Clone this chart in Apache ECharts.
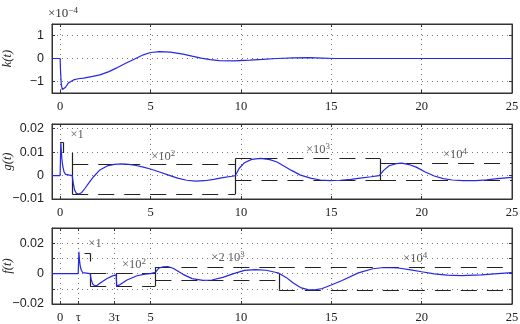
<!DOCTYPE html>
<html><head><meta charset="utf-8">
<script src="https://cdn.jsdelivr.net/npm/echarts@6/dist/echarts.min.js"></script>
<style>html,body{margin:0;padding:0;background:#fff}#c{width:520px;height:324px}</style>
</head><body><div id="c"></div>
<script>
// ---------- data ----------
const xTicks = [0, 5, 10, 15, 20, 25];
const xLabels = ['0', '5', '10', '15', '20', '25'];
const fXTicks = [0, 1, 3, 5, 10, 15, 20, 25];
const fXLabels = ['0', 'τ', '3τ', '5', '10', '15', '20', '25'];
const kYTicks = [-1, 0, 1];
const gYTicks = [-0.01, 0, 0.01, 0.02];
const fYTicks = [-0.02, -0.01, 0, 0.01, 0.02];
const fYLabelTicks = [-0.02, 0, 0.02];

// k(t) in units of 1e-4
const kData = [[-0.45,0],[0,0],[0.02,-0.5],[0.06,-1.1],[0.12,-1.35],[0.18,-1.39],[0.3,-1.25],[0.45,-1.07],[0.74,-0.93],[1.0,-0.88],[1.3,-0.85],[1.8,-0.78],[2.2,-0.71],[2.7,-0.57],[3.1,-0.42],[3.6,-0.22],[4.1,-0.03],[4.6,0.16],[5.0,0.26],[5.5,0.3],[6.1,0.28],[6.8,0.19],[7.3,0.1],[7.8,0.02],[8.3,-0.05],[8.8,-0.09],[9.6,-0.1],[10.5,-0.07],[11.2,-0.04],[12.0,0],[12.9,0.03],[13.8,0.04],[14.5,0.02],[15.2,0],[25,0]];

const gData = [[-0.45,0],[0,0],[0.02,0.008],[0.04,0.0142],[0.07,0.01],[0.11,0.006],[0.16,0.0035],[0.22,0.0015],[0.3,0.0005],[0.4,0],[0.67,0],[0.72,-0.003],[0.8,-0.0062],[0.9,-0.0076],[1.05,-0.0079],[1.2,-0.0072],[1.4,-0.0052],[1.6,-0.003],[1.85,-0.0005],[2.2,0.0024],[2.6,0.0041],[3.0,0.0048],[3.4,0.005],[3.8,0.0048],[4.2,0.0043],[4.6,0.0036],[5.0,0.0028],[5.5,0.0015],[6.0,0.0002],[6.5,-0.0011],[7.0,-0.002],[7.5,-0.0024],[8.0,-0.0022],[8.5,-0.0016],[9.0,-0.0009],[9.5,-0.0003],[9.7,0],[9.9,0.003],[10.2,0.0055],[10.6,0.0069],[11.1,0.0073],[11.6,0.0068],[12.0,0.0058],[12.4,0.004],[12.8,0.0022],[13.3,0.0002],[13.9,-0.0012],[14.4,-0.0019],[14.9,-0.0022],[15.5,-0.002],[16.1,-0.0016],[16.6,-0.0011],[17.2,-0.0005],[17.65,0.0],[17.9,0.0022],[18.2,0.0042],[18.6,0.0051],[18.9,0.0053],[19.3,0.0047],[19.7,0.0036],[20.2,0.0015],[20.7,-0.0002],[21.2,-0.0013],[21.7,-0.0019],[22.3,-0.0022],[23.0,-0.0022],[23.6,-0.0018],[24.2,-0.0013],[25,-0.0008]];

const fData = [[-0.45,0],[1.0,0],[1.02,0.008],[1.04,0.0144],[1.07,0.009],[1.11,0.005],[1.17,0.0022],[1.25,0.0007],[1.35,0],[1.66,0],[1.72,-0.004],[1.8,-0.0068],[1.92,-0.0081],[2.05,-0.0077],[2.3,-0.0055],[2.6,-0.0032],[2.9,-0.0015],[3.1,-0.0008],[3.13,-0.0081],[3.3,-0.0074],[3.7,-0.0042],[4.25,-0.0014],[4.7,-0.0004],[5.0,0],[5.27,0.0008],[5.45,0.0035],[5.7,0.0045],[5.95,0.0046],[6.25,0.0035],[6.8,-0.0005],[7.3,-0.0033],[7.9,-0.0045],[8.4,-0.0042],[9.0,-0.0025],[9.6,0.0],[10.2,0.0021],[10.8,0.0026],[11.4,0.0022],[11.9,0.0009],[12.1,0.0003],[12.5,-0.0025],[12.9,-0.0062],[13.3,-0.0092],[13.7,-0.0105],[14.1,-0.0107],[14.5,-0.0098],[15.0,-0.0075],[15.6,-0.0045],[16.5,0.0005],[17.3,0.0032],[17.9,0.004],[18.7,0.0037],[19.4,0.0025],[20.0,0.0012],[20.7,-0.0002],[21.4,-0.001],[22.2,-0.0013],[23.3,-0.0009],[24.4,0.0002],[25,0.0007]];

// envelopes: horizontal [x1, x2, y], vertical [x, y1, y2]
const gEnvH = [[0,0.17,0.0142],[0.67,9.7,0.0049],[0.67,9.7,-0.0079],[9.7,17.7,0.0072],[9.7,17.7,-0.0021],[17.7,25,0.0053],[17.7,25,-0.0021]];
const gEnvV = [[0.17,0.0142,0.0096],[0.67,0.0096,-0.0079],[9.7,0.0072,-0.0079],[17.7,0.0072,-0.0021]];
const fEnvH = [[1.35,1.66,0.0134],[1.66,5.27,0],[1.66,5.27,-0.0081],[5.27,12.1,0.0042],[5.27,12.1,-0.0046],[12.1,25,0.004],[12.1,25,-0.0107]];
const fEnvV = [[1.66,0.0134,0.008],[1.66,0,-0.0081],[3.13,0,-0.0081],[5.27,0.0042,-0.0081],[12.1,0,-0.0107]];

// annotations [x, y, text]
const gNotes = [[0.94,0.0175,'×1'],[5.7,0.008,'×10²'],[14.27,0.011,'×10³'],[21.85,0.0089,'×10⁴']];
const fNotes = [[1.93,0.0195,'×1'],[4.09,0.0057,'×10²'],[9.29,0.0103,'×2 10³'],[19.64,0.0096,'×10⁴']];
const kScaleText = '×10⁻⁴';

// ---------- styles ----------
const SERIF = "'Liberation Serif','DejaVu Serif',serif";
const SANS = "'Liberation Sans','DejaVu Sans',sans-serif";
const BLUE = '#2626e6';
const AX = '#333';
const XMIN = -0.45, XMAX = 25;

const SUP = '⁰¹²³⁴⁵⁶⁷⁸⁹⁻';
const SUPN = '0123456789−';
function toRich(s) {
  let out = '', run = '', base = '';
  const flushRun = () => { if (run) { out += '{s|' + run + '}'; run = ''; } };
  const flushBase = () => { if (base) { out += '{a|' + base + '}'; base = ''; } };
  for (const ch of s) {
    const i = SUP.indexOf(ch);
    if (i >= 0) { flushBase(); run += SUPN[i]; }
    else { flushRun(); base += ch; }
  }
  flushBase(); flushRun();
  return out;
}
const richStyle = (fs) => ({
  a: {fontFamily:SERIF, fontSize:fs, fontWeight:'normal', lineHeight:15, color:'#333'},
  s: {fontFamily:SERIF, fontSize:Math.round(fs*0.72), fontWeight:'normal', lineHeight:7, verticalAlign:'top', color:'#333'}
});

const grids = [
  {left:52, right:8, top:24, height:69},
  {left:52, right:8, top:124, height:75},
  {left:52, right:8, top:228, height:76}
];
grids.forEach(g => { g.show = true; g.borderColor = AX; g.borderWidth = 1; g.containLabel = false; g.outerBoundsMode = 'none'; });

function fmtY(dec) {
  return v => {
    if (Math.abs(v) < 1e-12) return '0';
    const s = Math.abs(v).toFixed(dec);
    return (v < 0 ? '−' : '') + s;
  };
}

const xAxes = [], yAxes = [];
function addX(gi, ticks, labels) {
  xAxes.push({
    type:'value', gridIndex:gi, min:XMIN, max:XMAX, position:'bottom',
    axisLine:{show:true, onZero:false, lineStyle:{color:AX}},
    axisTick:{show:true, inside:true, length:3, customValues:ticks, lineStyle:{color:AX}},
    axisLabel:{show:true, customValues:ticks, margin:7, fontFamily:SERIF, fontSize:12.5, color:'#222',
      formatter: v => { const i = ticks.findIndex(t => Math.abs(t - v) < 1e-9); return i >= 0 ? labels[i] : ''; }},
    splitLine:{show:true, lineStyle:{color:'#777', type:[1,4], width:1}}
  });
  xAxes.push({
    type:'value', gridIndex:gi, min:XMIN, max:XMAX, position:'top',
    axisLine:{show:true, onZero:false, lineStyle:{color:AX}},
    axisTick:{show:true, inside:true, length:3, customValues:ticks, lineStyle:{color:AX}},
    axisLabel:{show:false}, splitLine:{show:false}
  });
}
function addY(gi, min, max, ticks, labelTicks, fmt, name) {
  yAxes.push({
    type:'value', gridIndex:gi, min:min, max:max, position:'left',
    name:name, nameLocation:'middle', nameRotate:90, nameGap:38, nameMoveOverlap:false,
    nameTextStyle:{fontFamily:SERIF, fontStyle:'italic', fontSize:12.5, color:'#222'},
    axisLine:{show:true, onZero:false, lineStyle:{color:AX}},
    axisTick:{show:true, inside:true, length:3, customValues:ticks, lineStyle:{color:AX}},
    axisLabel:{show:true, customValues:labelTicks, margin:8, fontFamily:SANS, fontSize:12.5, color:'#222', formatter:fmt},
    splitLine:{show:true, lineStyle:{color:'#777', type:[1,4], width:1}}
  });
  yAxes.push({
    type:'value', gridIndex:gi, min:min, max:max, position:'right',
    axisLine:{show:true, onZero:false, lineStyle:{color:AX}},
    axisTick:{show:true, inside:true, length:3, customValues:ticks, lineStyle:{color:AX}},
    axisLabel:{show:false}, splitLine:{show:false}
  });
}
addX(0, xTicks, xLabels);
addX(1, xTicks, xLabels);
addX(2, fXTicks, fXLabels);
addY(0, -1.5, 1.5, kYTicks, kYTicks, fmtY(0), 'k(t)');
addY(1, -0.01, 0.022, gYTicks, gYTicks, fmtY(2), 'g(t)');
addY(2, -0.02, 0.03, fYTicks, fYLabelTicks, fmtY(2), 'f(t)');

const series = [];
function curve(gi, data) {
  series.push({type:'line', xAxisIndex:gi*2, yAxisIndex:gi*2, data:data, showSymbol:false, symbol:'none',
    lineStyle:{color:BLUE, width:1.2}, z:5, silent:true, animation:false});
}
function env(gi, H, V) {
  series.push({type:'lines', coordinateSystem:'cartesian2d', xAxisIndex:gi*2, yAxisIndex:gi*2,
    data:H.map(s => ({coords:[[s[0], s[2]], [s[1], s[2]]]})),
    lineStyle:{color:'#222', width:1.2, type:[16,10], opacity:1}, z:3, silent:true, animation:false});
  series.push({type:'lines', coordinateSystem:'cartesian2d', xAxisIndex:gi*2, yAxisIndex:gi*2,
    data:V.map(s => ({coords:[[s[0], s[1]], [s[0], s[2]]]})),
    lineStyle:{color:'#222', width:1.2, type:'solid', opacity:1}, z:3, silent:true, animation:false});
}
function notes(gi, N) {
  series.push({type:'scatter', xAxisIndex:gi*2, yAxisIndex:gi*2, symbolSize:1,
    itemStyle:{color:'transparent'}, silent:true, animation:false, z:6,
    data:N.map(n => ({value:[n[0], n[1]], label:{formatter:toRich(n[2])}})),
    label:{show:true, position:'inside', rich:richStyle(12.5)}});
}
curve(0, kData);
env(1, gEnvH, gEnvV); curve(1, gData); notes(1, gNotes);
env(2, fEnvH, fEnvV); curve(2, fData); notes(2, fNotes);

const chart = echarts.init(document.getElementById('c'), null, {renderer:'canvas'});
chart.setOption({
  animation:false,
  backgroundColor:'#fff',
  title:{text:toRich(kScaleText), left:43, top:1, textStyle:{fontSize:13, fontWeight:'normal', fontFamily:SERIF, rich:richStyle(13)}},
  grid:grids, xAxis:xAxes, yAxis:yAxes, series:series
});
</script></body></html>
